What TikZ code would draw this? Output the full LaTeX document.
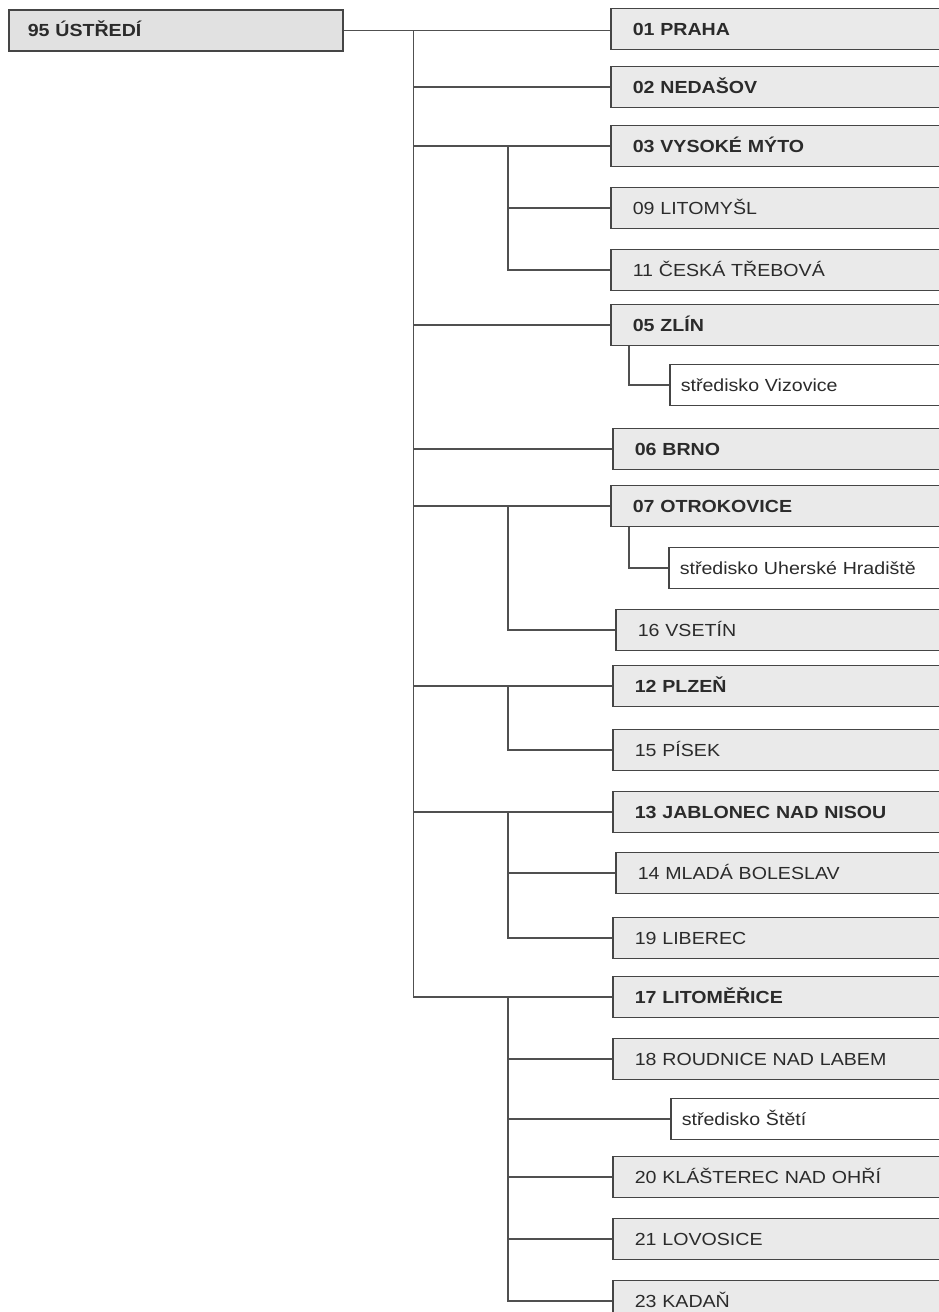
\documentclass[tikz,border=0pt]{standalone}
\usepackage{fontspec}
\setmainfont[FakeStretch=1.12]{Liberation Sans}
\definecolor{linec}{HTML}{505050}
\definecolor{boxline}{HTML}{454545}
\definecolor{boxfill}{HTML}{EAEAEA}
\definecolor{txt}{HTML}{2B2B2B}
\tikzset{
  box/.style={draw=boxline, line width=1.5pt, fill=boxfill, anchor=west,
    minimum height=41pt, inner ysep=0pt, inner xsep=22pt, text width=306pt,
    align=left, text=txt, font=\fontsize{17.5}{20}\selectfont,
    text height=12.5pt, text depth=0pt},
  bbox/.style={box, font=\fontsize{17.5}{20}\selectfont\bfseries},
  sbox/.style={box, fill=white, inner xsep=11pt, text width=328pt},
  conn/.style={draw=linec, line width=1.3pt},
}
\begin{document}
\begin{tikzpicture}[x=1pt,y=-1pt]
\clip (0,0) rectangle (939,1312);
\fill[white] (0,0) rectangle (939,1312);
\node[bbox, inner xsep=19pt, text width=296pt, fill=boxfill!96!black] (m) at (8,30.5) {95 ÚSTŘEDÍ};
\node[bbox] (b01) at (610,29) {01 PRAHA};
\node[bbox] (b02) at (610,87) {02 NEDAŠOV};
\node[bbox] (b03) at (610,146) {03 VYSOKÉ MÝTO};
\node[box]  (b09) at (610,208) {09 LITOMYŠL};
\node[box]  (b11) at (610,270) {11 ČESKÁ TŘEBOVÁ};
\node[bbox] (b05) at (610,325) {05 ZLÍN};
\node[sbox] (viz) at (669,385) {středisko Vizovice};
\node[bbox] (b06) at (612,449) {06 BRNO};
\node[bbox] (b07) at (610,506) {07 OTROKOVICE};
\node[sbox] (uh)  at (668,568) {středisko Uherské Hradiště};
\node[box]  (b16) at (615,630) {16 VSETÍN};
\node[bbox] (b12) at (612,686) {12 PLZEŇ};
\node[box]  (b15) at (612,750) {15 PÍSEK};
\node[bbox] (b13) at (612,812) {13 JABLONEC NAD NISOU};
\node[box]  (b14) at (615,873) {14 MLADÁ BOLESLAV};
\node[box]  (b19) at (612,938) {19 LIBEREC};
\node[bbox] (b17) at (612,997) {17 LITOMĚŘICE};
\node[box]  (b18) at (612,1059) {18 ROUDNICE NAD LABEM};
\node[sbox] (stt) at (670,1119) {středisko Štětí};
\node[box]  (b20) at (612,1177) {20 KLÁŠTEREC NAD OHŘÍ};
\node[box]  (b21) at (612,1239) {21 LOVOSICE};
\node[box]  (b23) at (612,1301) {23 KADAŇ};
\coordinate (tx) at (413.5,0);
\coordinate (sx) at (508,0);
\draw[conn] (m.east) -- (m.east -| b01.west);
\coordinate (t0) at (m.east -| tx);
\foreach \n in {b02,b03,b05,b06,b07,b12,b13,b17}
  \draw[conn] (t0) |- (\n.west);
\draw[conn] (b03.west -| sx) |- (b09.west);
\draw[conn] (b03.west -| sx) |- (b11.west);
\draw[conn] ([xshift=19pt]b05.south west) |- (viz.west);
\draw[conn] (b07.west -| sx) |- (b16.west);
\draw[conn] ([xshift=19pt]b07.south west) |- (uh.west);
\draw[conn] (b12.west -| sx) |- (b15.west);
\draw[conn] (b13.west -| sx) |- (b14.west);
\draw[conn] (b13.west -| sx) |- (b19.west);
\foreach \n in {b18,stt,b20,b21,b23}
  \draw[conn] (b17.west -| sx) |- (\n.west);
\end{tikzpicture}
\end{document}
